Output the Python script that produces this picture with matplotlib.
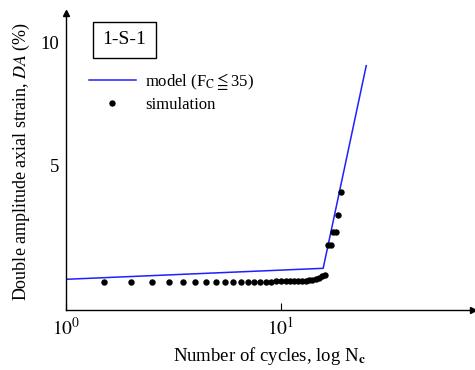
import matplotlib
matplotlib.use("Agg")
import matplotlib.pyplot as plt
from matplotlib.ticker import FixedLocator, NullLocator

plt.rcParams["font.family"] = ["Liberation Serif", "DejaVu Serif"]
plt.rcParams["mathtext.fontset"] = "stix"

# model line (F_C <= 35): cycles vs DA (%)
model_n = [1.0, 15.7, 24.9]
model_da = [0.32, 0.77, 9.07]

# simulation points
sim_n = [1.5, 2.0, 2.5, 3.0, 3.5, 4.0, 4.5, 5.0, 5.5, 6.0, 6.5, 7.0, 7.5, 8.0,
         8.5, 9.0, 9.5, 10.0, 10.5, 11.0, 11.5, 12.0, 12.5, 13.0, 13.5, 14.0,
         14.5, 15.0, 15.5, 16.0, 16.5, 17.0, 17.5, 18.0, 18.5, 19.0]
sim_da = [0.22, 0.22, 0.22, 0.22, 0.22, 0.22, 0.22, 0.22, 0.22, 0.22, 0.22,
          0.22, 0.22, 0.22, 0.22, 0.22, 0.23, 0.23, 0.23, 0.24, 0.24, 0.25,
          0.26, 0.27, 0.29, 0.31, 0.34, 0.38, 0.45, 0.48, 1.72, 1.72, 2.24,
          2.24, 2.96, 3.89]

fig = plt.figure(figsize=(4.75, 3.7), dpi=100)
ax = fig.add_axes([0.139, 0.162, 0.857, 0.803])

ax.plot(model_n, model_da, color="#1f1fff", lw=1.1,
        label="model (F$_\\mathrm{C}$$\\leqq$35)")
ax.plot(sim_n, sim_da, "o", color="black", ms=4.6, mec="none", label="simulation")

ax.set_xscale("log")
ax.set_xlim(1.0, 78.2)
ax.set_ylim(-0.94, 11.23)

for side in ("top", "right"):
    ax.spines[side].set_visible(False)
ax.spines["left"].set_linewidth(1.0)
ax.spines["bottom"].set_linewidth(1.0)
ax.plot(1, 0, ">k", ms=5, transform=ax.transAxes, clip_on=False)
ax.plot(0, 1, "^k", ms=5, transform=ax.transAxes, clip_on=False)

ax.xaxis.set_major_locator(FixedLocator([1, 10]))
ax.xaxis.set_minor_locator(NullLocator())
ax.set_xticklabels(["$10^0$", "$10^1$"])
ax.tick_params(axis="x", direction="in", length=5, labelsize=14, pad=5)
ax.set_yticks([5, 10])
ax.set_yticklabels(["5", "10"])
ax.tick_params(axis="y", length=0, labelsize=13.5, pad=5)

ax.set_xlabel("Number of cycles, log N$_\\mathbf{c}$", fontsize=13.5, labelpad=4)
ax.set_ylabel("Double amplitude axial strain, $\\mathit{DA}$ (%)", fontsize=13, labelpad=6)

ax.text(0.143, 0.909, "1-S-1", transform=ax.transAxes, fontsize=14,
        ha="center", va="center",
        bbox=dict(boxstyle="square,pad=0.5", fc="white", ec="black", lw=1.0))

ax.legend(loc="upper left", bbox_to_anchor=(0.02, 0.855), frameon=False,
          fontsize=12, handlelength=2.8, handletextpad=0.55, labelspacing=0.3)

fig.savefig("out.png", dpi=100)
